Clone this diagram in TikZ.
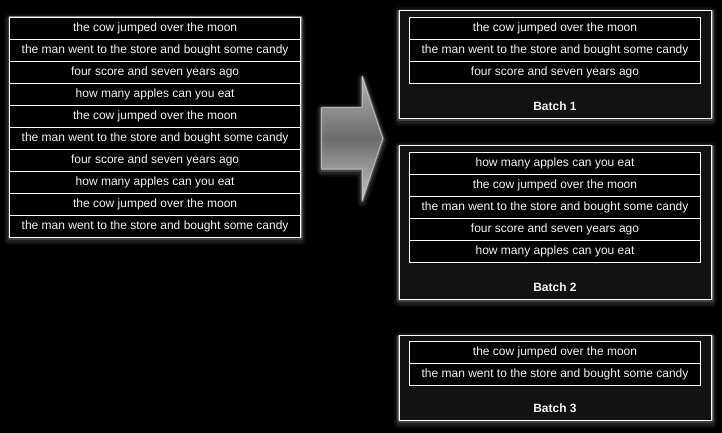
\documentclass[tikz,border=0pt]{standalone}
\usepackage{fontspec}
\setmainfont{Liberation Sans}
\usetikzlibrary{positioning}
\definecolor{batchfill}{HTML}{121212}
\definecolor{rowtext}{HTML}{F4F4F4}
\tikzset{
  glow/.style={
    preaction={draw=white,draw opacity=0.05,line width=11pt,line join=round,transform canvas={yshift=-2pt}},
    preaction={draw=white,draw opacity=0.08,line width=7pt,line join=round,transform canvas={yshift=-2pt}},
    preaction={draw=white,draw opacity=0.15,line width=4pt,line join=round,transform canvas={yshift=-1pt}},
    preaction={draw=white,draw opacity=0.3,line width=2pt,line join=round}},
  row/.style={draw=white,fill=black,text=rowtext,line width=0.8pt,inner sep=0pt,
    minimum width=291.3pt,minimum height=22pt,font=\fontsize{12}{14}\selectfont},
  batchbox/.style={glow,draw=white,fill=batchfill,line width=0.9pt,minimum width=312.4pt,inner sep=0pt},
  batchlabel/.style={text=rowtext,font=\fontsize{12}{14}\selectfont\bfseries}
}
\begin{document}
\begin{tikzpicture}[x=1pt,y=-1pt]
\useasboundingbox (0,0) rectangle (722,433);
\fill[black] (0,0) rectangle (722,433);
% input list
\path[glow,fill=black] (9.5,17.3) rectangle (300.7,237.3);
\node[row] (in1) at (155.1,28.3) {the cow jumped over the moon};
\node[row] (in2) at (155.1,50.3) {the man went to the store and bought some candy};
\node[row] (in3) at (155.1,72.3) {four score and seven years ago};
\node[row] (in4) at (155.1,94.3) {how many apples can you eat};
\node[row] (in5) at (155.1,116.3) {the cow jumped over the moon};
\node[row] (in6) at (155.1,138.3) {the man went to the store and bought some candy};
\node[row] (in7) at (155.1,160.3) {four score and seven years ago};
\node[row] (in8) at (155.1,182.3) {how many apples can you eat};
\node[row] (in9) at (155.1,204.3) {the cow jumped over the moon};
\node[row] (in10) at (155.1,226.3) {the man went to the store and bought some candy};
% big arrow
\draw[glow,draw=gray!40,line width=0.6pt,top color=gray!60,bottom color=gray!45,middle color=gray!85!black]
  (321.7,107.7) -- (362.3,107.7) -- (362.3,77) -- (382.7,138.5) -- (362.3,200) -- (362.3,169) -- (321.7,169) -- cycle;
% batch 1
\node[batchbox,minimum height=107.6pt] (b1) at (555.5,64.5) {};
\node[row] (b1r1) at (555,28.3) {the cow jumped over the moon};
\node[row] (b1r2) at (555,50.3) {the man went to the store and bought some candy};
\node[row] (b1r3) at (555,72.3) {four score and seven years ago};
\node[batchlabel] (b1l) at (555,106.5) {Batch 1};
% batch 2
\node[batchbox,minimum height=153.6pt] (b2) at (555.5,222.5) {};
\node[row] (b2r1) at (555,163.3) {how many apples can you eat};
\node[row] (b2r2) at (555,185.3) {the cow jumped over the moon};
\node[row] (b2r3) at (555,207.3) {the man went to the store and bought some candy};
\node[row] (b2r4) at (555,229.3) {four score and seven years ago};
\node[row] (b2r5) at (555,251.3) {how many apples can you eat};
\node[batchlabel] (b2l) at (555,287.5) {Batch 2};
% batch 3
\node[batchbox,minimum height=84.6pt] (b3) at (555.5,378) {};
\node[row] (b3r1) at (555,352.4) {the cow jumped over the moon};
\node[row] (b3r2) at (555,374.6) {the man went to the store and bought some candy};
\node[batchlabel] (b3l) at (555,408.5) {Batch 3};
\end{tikzpicture}
\end{document}
